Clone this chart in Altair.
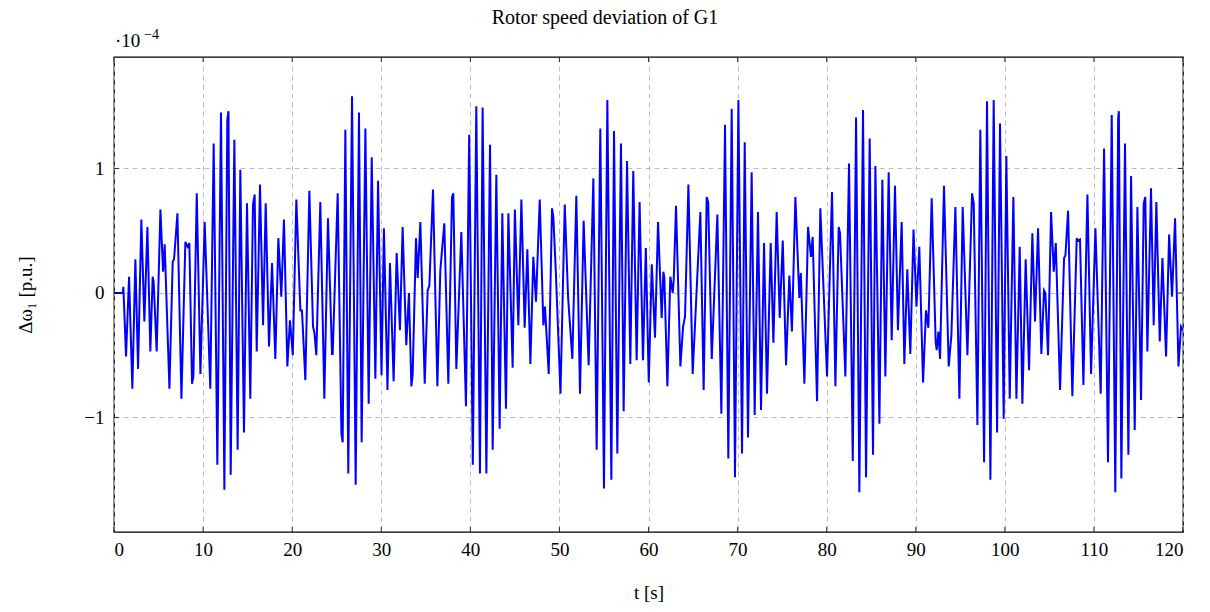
import altair as alt
import pandas as pd

# Rotor speed deviation of G1, values in units of 1e-4 p.u.
time_s = [
    0, 1.0, 1.05, 1.35, 1.69, 2.06, 2.40, 2.70, 3.07, 3.41, 3.75, 4.08, 4.34, 4.45, 4.79, 5.21, 5.51, 5.69, 6.22, 6.59, 6.74, 7.12, 7.57, 8.01, 8.27, 8.46, 8.76, 8.91, 9.29, 9.70, 10.18, 10.81,
    11.19, 11.60, 12.01, 12.39, 12.72, 12.85, 13.10, 13.51, 13.88, 14.18, 14.59, 14.93, 15.30, 15.60, 15.79, 16.02, 16.39, 16.73, 17.03, 17.40, 17.74, 18.11, 18.45, 18.78, 19.08, 19.46, 19.75, 20.07, 20.47,
    20.92, 21.10, 21.48, 21.93, 22.34, 22.50, 22.71, 23.16, 23.61, 24.02, 24.47, 24.55, 25.11, 25.53, 25.67, 25.97, 26.30, 26.72, 27.13, 27.50, 27.80, 28.22, 28.59, 28.93, 29.34, 29.64, 30.03, 30.30, 30.70,
    30.98, 31.39, 31.73, 32.10, 32.40, 32.81, 33.11, 33.38, 33.53, 33.90, 34.09, 34.39, 34.88, 35.21, 35.40, 35.81, 36.30, 36.63, 37.08, 37.53, 37.94, 38.09, 38.43, 38.99, 39.51, 39.87, 40.28,
    40.67, 41.08, 41.38, 41.80, 42.21, 42.51, 42.92, 43.29, 43.59, 44.00, 44.27, 44.75, 45.00, 45.39, 45.73, 46.10, 46.40, 46.74, 47.07, 47.37, 47.79, 48.20, 48.38, 48.80, 49.17, 49.32, 49.62, 50.12, 50.60,
    50.97, 51.45, 51.90, 52.31, 52.72, 53.28, 53.81, 54.18, 54.59, 55.00, 55.38, 55.83, 56.13, 56.50, 56.91, 57.21, 57.59, 57.96, 58.29, 58.67, 59.00, 59.38, 59.70, 60.03, 60.37,
    60.73, 61.07, 61.48, 61.67, 61.78, 62.12, 62.45, 62.72, 62.83, 63.09, 63.58, 63.88, 64.10, 64.48, 64.96, 65.82, 66.19, 66.53, 66.70, 67.10, 67.73, 68.18, 68.59, 68.96, 69.34, 69.71, 70.09, 70.50,
    70.80, 71.17, 71.58, 71.92, 72.29, 72.63, 72.97, 73.30, 73.72, 74.02, 74.39, 74.73, 75.07, 75.44, 75.81, 76.10, 76.49, 76.93, 77.10, 77.50, 77.91, 78.24, 78.43, 78.92, 79.29, 80.04, 80.60,
    80.98, 81.35, 81.50, 82.10, 82.51, 82.93, 83.30, 83.67, 84.08, 84.42, 84.83, 85.20, 85.47, 85.92, 86.25, 86.59, 86.96, 87.30, 87.67, 88.00, 88.42, 88.72, 89.05, 89.39, 89.75, 90.08, 90.40,
    90.82, 91.15, 91.42, 91.79, 92.24, 92.35, 92.55, 92.73, 93.17, 93.70, 94.00, 94.45, 94.90, 95.27, 95.80, 96.32, 96.51, 96.92, 97.25, 97.67, 98.00, 98.38, 98.75, 99.13, 99.46, 99.87, 100.17, 100.55,
    100.96, 101.30, 101.67, 101.97, 102.34, 102.72, 103.09, 103.39, 103.73, 104.10, 104.40, 104.55, 104.85, 105.19, 105.49, 105.72, 106.20, 106.65, 106.80, 107.10, 107.58, 108.07, 108.20, 108.44, 108.82, 109.27, 109.68, 110.17,
    110.76, 111.14, 111.58, 112.00, 112.40, 112.72, 112.80, 113.08, 113.49, 113.87, 114.17, 114.58, 114.88, 115.29, 115.59, 115.77, 116.00, 116.41, 116.71, 117.01, 117.39, 117.69, 118.10, 118.44, 118.77, 119.11, 119.49, 119.78, 120.0,
]
delta_omega = [
    0, 0, 0.05, -0.51, 0.13, -0.77, 0.27, -0.61, 0.59, -0.23, 0.53, -0.47, 0.13, 0.09, -0.47, 0.67, 0.17, 0.39, -0.77, 0.25, 0.27, 0.64, -0.85, 0.41, 0.37, 0.40, -0.73, -0.67, 0.80, -0.65, 0.57, -0.77,
    1.20, -1.38, 1.45, -1.58, 1.39, 1.46, -1.46, 1.23, -1.26, 0.99, -1.12, 0.72, -0.85, 0.71, 0.79, -0.47, 0.87, -0.26, 0.72, -0.43, 0.24, -0.53, 0.44, -0.03, 0.59, -0.59, -0.22, -0.50, 0.75,
    -0.14, -0.14, -0.70, 0.82, -0.27, -0.32, -0.50, 0.73, -0.85, 0.60, -0.49, -0.49, 0.80, -1.13, -1.20, 1.31, -1.45, 1.58, -1.54, 1.45, -1.20, 1.32, -0.89, 1.09, -0.69, 0.90, -0.66, 0.52, -0.78,
    0.24, -0.71, 0.32, -0.30, 0.53, -0.42, 0.0, -0.75, -0.65, 0.44, 0.12, 0.57, -0.73, 0.02, 0.06, 0.83, -0.75, 0.18, 0.56, -0.73, 0.77, 0.80, -0.61, 0.49, -0.91, 1.27, -1.38,
    1.50, -1.45, 1.49, -1.45, 1.19, -1.26, 0.95, -1.09, 0.64, -0.93, 0.64, -0.60, 0.67, -0.26, 0.75, -0.28, 0.35, -0.57, 0.29, -0.07, 0.75, -0.26, -0.11, -0.65, 0.68, 0.61, 0.13, -0.81, 0.71,
    -0.03, -0.53, 0.78, -0.81, 0.58, -0.58, 0.92, -1.26, 1.32, -1.57, 1.55, -1.50, 1.30, -1.29, 1.20, -0.95, 1.06, -0.57, 0.98, -0.54, 0.73, -0.54, 0.36, -0.72, 0.23,
    -0.36, 0.57, -0.20, 0.17, 0.12, -0.75, 0.13, 0.0, 0.10, 0.70, -0.59, -0.27, -0.19, 0.87, -0.65, 0.65, -0.78, 0.77, 0.73, -0.53, 0.63, -0.97, 1.35, -1.33, 1.48, -1.48, 1.55, -1.29,
    1.21, -1.16, 0.97, -0.98, 0.65, -0.94, 0.40, -0.81, 0.40, -0.40, 0.65, -0.20, 0.42, -0.58, 0.14, -0.31, 0.77, -0.04, 0.16, -0.73, 0.53, 0.29, 0.45, -0.87, 0.68, -0.67, 0.81,
    -0.75, 0.53, 0.48, -0.67, 1.04, -1.35, 1.41, -1.60, 1.47, -1.48, 1.24, -1.30, 1.02, -1.05, 0.91, -0.67, 0.97, -0.38, 0.86, -0.30, 0.57, -0.57, 0.19, -0.49, 0.51, -0.11, 0.37,
    -0.72, -0.14, -0.28, 0.76, -0.40, -0.46, -0.31, -0.53, 0.86, -0.59, -0.34, 0.69, -0.85, 0.69, -0.50, 0.80, 0.72, -1.06, 1.31, -1.36, 1.54, -1.50, 1.55, -1.12, 1.36, -1.01, 1.10, -0.85,
    0.77, -0.85, 0.37, -0.89, 0.27, -0.62, 0.48, -0.23, 0.52, -0.49, 0.02, 0.0, -0.50, 0.65, 0.17, 0.40, -0.78, 0.28, 0.30, 0.66, -0.83, 0.44, 0.42, 0.43, -0.74, 0.79, -0.65, 0.52,
    -0.81, 1.16, -1.36, 1.43, -1.60, 1.40, 1.46, -1.49, 1.20, -1.30, 0.94, -1.10, 0.69, -0.86, 0.72, 0.77, -0.47, 0.84, -0.26, 0.73, -0.39, 0.28, -0.51, 0.47, -0.03, 0.60, -0.59, -0.27, -0.30,
]
assert len(time_s) == len(delta_omega)

x_ticks = [0, 10, 20, 30, 40, 50, 60, 70, 80, 90, 100, 110, 120]
y_ticks = [-1, 0, 1]
x_domain = [0, 120]
y_domain = [-1.92, 1.895]

title_text = "Rotor speed deviation of G1"
x_title = "t [s]"
y_title = "Δω₁ [p.u.]"
scale_base = "·10"
scale_exp = "−4"

W, H = 1069, 475
SERIF = "Liberation Serif"

df = pd.DataFrame({"t": time_s, "dw": delta_omega})

x_enc = alt.X(
    "t:Q",
    scale=alt.Scale(domain=x_domain, nice=False, zero=False),
    axis=alt.Axis(values=x_ticks, title=x_title, format="d"),
)
y_enc = alt.Y(
    "dw:Q",
    scale=alt.Scale(domain=y_domain, nice=False, zero=False),
    axis=alt.Axis(
        values=y_ticks,
        title=y_title,
        labelExpr="datum.value < 0 ? '−' + abs(datum.value) : '' + datum.value",
    ),
)

line = alt.Chart(df).mark_line(color="#0000ff", strokeWidth=2.0, clip=True).encode(
    x=x_enc, y=y_enc
)

xt = pd.DataFrame({"t": x_ticks})
yt = pd.DataFrame({"dw": y_ticks})
tick_style = dict(color="black", strokeWidth=0.8)
xb = alt.Chart(xt).mark_rule(**tick_style).encode(x=x_enc, y=alt.value(H), y2=alt.value(H - 5))
xtp = alt.Chart(xt).mark_rule(**tick_style).encode(x=x_enc, y=alt.value(0), y2=alt.value(5))
yl = alt.Chart(yt).mark_rule(**tick_style).encode(y=y_enc, x=alt.value(0), x2=alt.value(5))
yr = alt.Chart(yt).mark_rule(**tick_style).encode(y=y_enc, x=alt.value(W - 5), x2=alt.value(W))

one = pd.DataFrame({"k": [0]})
title = alt.Chart(one).mark_text(
    text=title_text, font=SERIF, fontSize=20, align="center", baseline="middle", color="black"
).encode(x=alt.value(491), y=alt.value(-39))
base = alt.Chart(one).mark_text(
    text=scale_base, font=SERIF, fontSize=19, align="left", baseline="alphabetic", color="black"
).encode(x=alt.value(1), y=alt.value(-10))
expo = alt.Chart(one).mark_text(
    text=scale_exp, font=SERIF, fontSize=14, align="left", baseline="alphabetic", color="black"
).encode(x=alt.value(30), y=alt.value(-18))

chart = (
    alt.layer(line, xb, xtp, yl, yr, title, base, expo)
    .properties(
        width=W,
        height=H,
        autosize=alt.AutoSizeParams(type="none"),
        padding={"left": 114, "top": 57, "right": 27, "bottom": 80},
    )
    .configure_view(stroke="black", strokeWidth=1.3)
    .configure_axis(
        labelFont=SERIF,
        labelFontSize=19,
        labelColor="black",
        titleFont=SERIF,
        titleFontSize=19,
        titleFontWeight="normal",
        titleColor="black",
        domain=False,
        ticks=False,
        tickSize=0,
        grid=True,
        gridColor="#b5b5b5",
        gridDash=[5, 4],
        gridWidth=0.9,
    )
    .configure_axisX(labelPadding=8, titlePadding=24)
    .configure_axisY(labelPadding=10, titlePadding=48)
)

chart.save("out.html", embed_options={"renderer": "svg", "actions": False})
